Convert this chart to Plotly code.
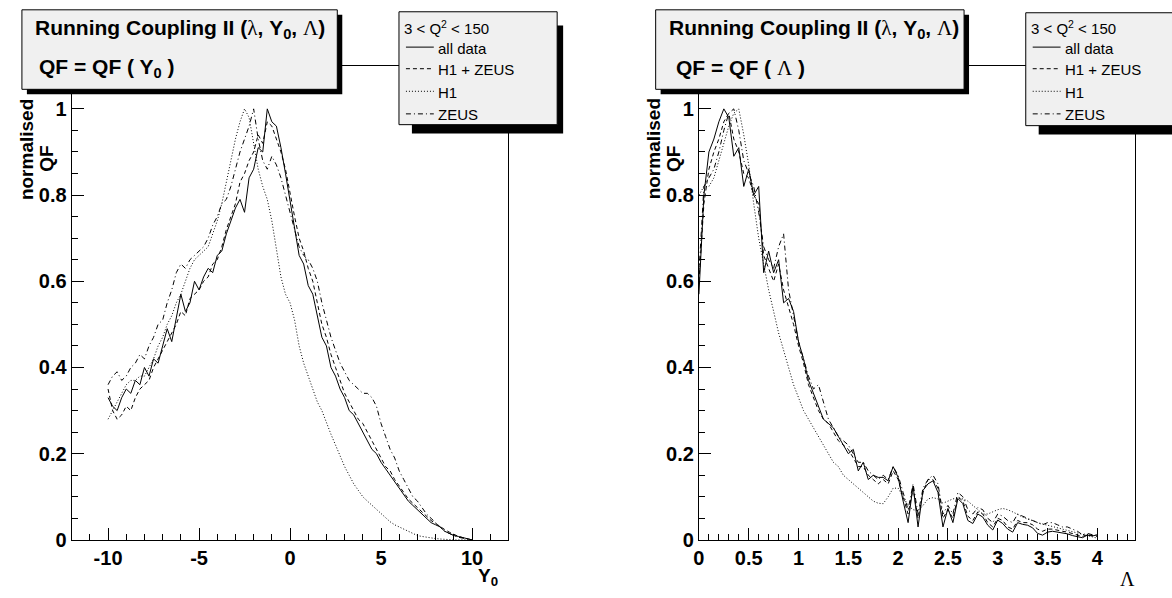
import plotly.graph_objects as go

W, H = 1172, 598

# ---------------- data: left panel, QF vs Y0 ----------------
y0_grid = [round(-10 + 0.25 * i, 2) for i in range(81)]

y0_all = [0.33, 0.31, 0.30, 0.33, 0.35, 0.34, 0.37, 0.36, 0.40, 0.38, 0.42, 0.41, 0.45, 0.49, 0.46, 0.52,
          0.57, 0.53, 0.55, 0.60, 0.58, 0.61, 0.63, 0.62, 0.66, 0.67, 0.71, 0.74, 0.77, 0.79, 0.76, 0.84,
          0.86, 0.91, 0.90, 1.00, 0.97, 0.96, 0.91, 0.85, 0.79, 0.73, 0.66, 0.64, 0.59, 0.57, 0.52, 0.47,
          0.45, 0.40, 0.38, 0.35, 0.33, 0.30, 0.29, 0.27, 0.25, 0.23, 0.21, 0.20, 0.18, 0.165, 0.15, 0.135,
          0.12, 0.105, 0.09, 0.08, 0.07, 0.06, 0.05, 0.04, 0.035, 0.03, 0.02, 0.015, 0.01, 0.008, 0.005,
          0.003, 0.0]
y0_h1zeus = [0.35, 0.30, 0.28, 0.29, 0.31, 0.30, 0.33, 0.35, 0.36, 0.37, 0.40, 0.42, 0.44, 0.46, 0.48, 0.50,
             0.53, 0.52, 0.56, 0.57, 0.58, 0.60, 0.61, 0.64, 0.65, 0.68, 0.72, 0.75, 0.78, 0.83, 0.85, 0.88,
             0.90, 0.94, 0.92, 0.97, 0.96, 0.93, 0.90, 0.86, 0.80, 0.75, 0.70, 0.67, 0.63, 0.60, 0.55, 0.50,
             0.47, 0.43, 0.40, 0.37, 0.34, 0.32, 0.30, 0.28, 0.27, 0.25, 0.23, 0.21, 0.19, 0.17, 0.16, 0.14,
             0.125, 0.11, 0.095, 0.085, 0.075, 0.065, 0.055, 0.045, 0.038, 0.03, 0.024, 0.018, 0.012, 0.008,
             0.005, 0.002, 0.0]
y0_h1 = [0.28, 0.30, 0.32, 0.34, 0.36, 0.37, 0.37, 0.38, 0.38, 0.40, 0.42, 0.45, 0.47, 0.50, 0.52, 0.55,
         0.57, 0.60, 0.63, 0.65, 0.66, 0.67, 0.68, 0.71, 0.74, 0.78, 0.83, 0.88, 0.93, 0.97, 1.00, 0.98,
         0.92, 0.86, 0.82, 0.79, 0.74, 0.67, 0.61, 0.57, 0.55, 0.51, 0.45, 0.41, 0.38, 0.35, 0.32, 0.30,
         0.27, 0.245, 0.22, 0.195, 0.17, 0.15, 0.13, 0.115, 0.10, 0.09, 0.08, 0.07, 0.06, 0.05, 0.042, 0.035,
         0.03, 0.025, 0.02, 0.015, 0.01, 0.008, 0.006, 0.004, 0.003, 0.002, 0.001, 0.0, 0.0, 0.0, 0.0,
         0.0, 0.0]
y0_zeus = [0.36, 0.38, 0.39, 0.37, 0.38, 0.40, 0.41, 0.43, 0.42, 0.45, 0.47, 0.50, 0.51, 0.55, 0.58, 0.62,
           0.64, 0.63, 0.65, 0.66, 0.67, 0.68, 0.70, 0.73, 0.75, 0.78, 0.79, 0.82, 0.86, 0.90, 0.93, 0.96,
           1.00, 0.93, 0.88, 0.86, 0.89, 0.87, 0.84, 0.80, 0.76, 0.72, 0.68, 0.66, 0.65, 0.63, 0.60, 0.55,
           0.51, 0.47, 0.44, 0.41, 0.39, 0.37, 0.36, 0.35, 0.34, 0.34, 0.33, 0.31, 0.27, 0.24, 0.21, 0.19,
           0.16, 0.14, 0.12, 0.10, 0.09, 0.075, 0.06, 0.05, 0.04, 0.03, 0.02, 0.015, 0.01, 0.006, 0.004,
           0.002, 0.0]

# ---------------- data: right panel, QF vs Lambda ----------------
lam_grid = [round(0.05 * i, 2) for i in range(81)]

lam_all = [0.57, 0.80, 0.90, 0.93, 0.97, 1.00, 0.98, 0.89, 0.91, 0.82, 0.86, 0.80, 0.82, 0.62, 0.67, 0.62,
           0.65, 0.55, 0.56, 0.53, 0.46, 0.42, 0.37, 0.34, 0.31, 0.28, 0.27, 0.26, 0.24, 0.22, 0.20, 0.21,
           0.16, 0.18, 0.14, 0.15, 0.145, 0.145, 0.137, 0.17, 0.145, 0.09, 0.04, 0.125, 0.03, 0.115, 0.13,
           0.137, 0.11, 0.03, 0.073, 0.04, 0.096, 0.084, 0.045, 0.038, 0.06, 0.053, 0.034, 0.023, 0.046,
           0.038, 0.025, 0.018, 0.04, 0.036, 0.034, 0.028, 0.015, 0.011, 0.018, 0.02, 0.018, 0.016, 0.014,
           0.01, 0.007, 0.005, 0.011, 0.009, 0.012]
lam_h1zeus = [0.60, 0.78, 0.86, 0.90, 0.93, 0.97, 0.99, 0.93, 0.90, 0.85, 0.84, 0.80, 0.78, 0.66, 0.63, 0.60,
              0.64, 0.58, 0.54, 0.50, 0.45, 0.41, 0.36, 0.33, 0.30, 0.28, 0.27, 0.25, 0.23, 0.22, 0.21, 0.19,
              0.17, 0.17, 0.15, 0.14, 0.13, 0.14, 0.13, 0.16, 0.14, 0.10, 0.06, 0.12, 0.05, 0.11, 0.14, 0.14,
              0.12, 0.05, 0.07, 0.05, 0.10, 0.09, 0.055, 0.045, 0.065, 0.06, 0.04, 0.03, 0.05, 0.045, 0.03,
              0.025, 0.045, 0.04, 0.04, 0.035, 0.025, 0.02, 0.025, 0.025, 0.022, 0.02, 0.018, 0.015, 0.012,
              0.008, 0.012, 0.01, 0.008]
lam_h1 = [0.80, 0.82, 0.82, 0.84, 0.88, 0.92, 0.96, 0.99, 1.00, 0.94, 0.87, 0.78, 0.70, 0.64, 0.58, 0.53,
          0.48, 0.44, 0.40, 0.36, 0.33, 0.30, 0.28, 0.26, 0.24, 0.22, 0.20, 0.18, 0.17, 0.15, 0.14, 0.13,
          0.12, 0.11, 0.10, 0.09, 0.085, 0.084, 0.10, 0.12, 0.12, 0.10, 0.08, 0.07, 0.068, 0.08, 0.095, 0.098,
          0.095, 0.085, 0.09, 0.095, 0.098, 0.095, 0.09, 0.08, 0.07, 0.06, 0.06, 0.065, 0.07, 0.073, 0.07,
          0.065, 0.058, 0.053, 0.048, 0.045, 0.04, 0.037, 0.034, 0.03, 0.027, 0.024, 0.021, 0.018, 0.015,
          0.012, 0.009, 0.006, 0.004]
lam_zeus = [0.62, 0.82, 0.84, 0.86, 0.90, 0.95, 0.99, 1.00, 0.95, 0.88, 0.85, 0.82, 0.76, 0.68, 0.65, 0.63,
            0.68, 0.71, 0.58, 0.52, 0.46, 0.42, 0.38, 0.35, 0.36, 0.32, 0.28, 0.26, 0.24, 0.23, 0.22, 0.20,
            0.18, 0.18, 0.16, 0.15, 0.14, 0.15, 0.14, 0.17, 0.15, 0.11, 0.07, 0.13, 0.06, 0.12, 0.14, 0.15,
            0.13, 0.06, 0.08, 0.06, 0.11, 0.10, 0.07, 0.06, 0.075, 0.07, 0.05, 0.04, 0.06, 0.055, 0.045,
            0.04, 0.06, 0.055, 0.05, 0.045, 0.04, 0.035, 0.04, 0.04, 0.035, 0.03, 0.03, 0.025, 0.02, 0.012,
            0.015, 0.012, 0.01]

series_names = ["all data", "H1 + ZEUS", "H1", "ZEUS"]
y_ticks = [0, 0.2, 0.4, 0.6, 0.8, 1]
y_tick_text = ["0", "0.2", "0.4", "0.6", "0.8", "1"]
y0_ticks = [-10, -5, 0, 5, 10]
y0_tick_text = ["-10", "-5", "0", "5", "10"]
lam_ticks = [0, 0.5, 1, 1.5, 2, 2.5, 3, 3.5, 4]
lam_tick_text = ["0", "0.5", "1", "1.5", "2", "2.5", "3", "3.5", "4"]

# ---------------- styling ----------------
SANS = "Liberation Sans, Arial, Helvetica, sans-serif"
SERIF = "Liberation Serif, Times New Roman, serif"
DASHES = ["solid", "4px,3px", "1px,2px", "5px,3px,1px,3px"]


def px(x):
    return x / W


def py(y):
    return 1 - y / H


fig = go.Figure()

left_sets = [y0_all, y0_h1zeus, y0_h1, y0_zeus]
right_sets = [lam_all, lam_h1zeus, lam_h1, lam_zeus]
for name, ys, dash in zip(series_names, left_sets, DASHES):
    fig.add_trace(go.Scatter(x=y0_grid, y=ys, mode="lines", name=name, showlegend=False,
                             line=dict(color="black", width=1, dash=dash), xaxis="x", yaxis="y"))
for name, ys, dash in zip(series_names, right_sets, DASHES):
    fig.add_trace(go.Scatter(x=lam_grid, y=ys, mode="lines", name=name, showlegend=False,
                             line=dict(color="black", width=1, dash=dash), xaxis="x2", yaxis="y2"))

tickfont = dict(family=SANS, size=20, color="black", weight="bold")
common_axis = dict(showline=True, linecolor="black", linewidth=1, mirror=True, showgrid=False,
                   zeroline=False, ticks="inside", tickcolor="black", tickwidth=1, ticklen=12,
                   tickfont=tickfont)

FRAME_BOTTOM, FRAME_TOP = 550, 67
LX0, LX1 = 66, 505
RX0, RX1 = 696.5, 1135

fig.update_layout(
    width=W, height=H, autosize=False,
    margin=dict(l=0, r=0, t=0, b=0),
    paper_bgcolor="white", plot_bgcolor="white",
    xaxis=dict(domain=[px(LX0), px(LX1)], range=[-12, 12], anchor="y",
               tickmode="array", tickvals=y0_ticks, ticktext=y0_tick_text,
               minor=dict(ticks="inside", ticklen=6, dtick=1, tick0=0, tickcolor="black"),
               **common_axis),
    yaxis=dict(domain=[py(FRAME_BOTTOM), py(FRAME_TOP)], range=[0, 1.1], anchor="x",
               tickmode="array", tickvals=y_ticks, ticktext=y_tick_text,
               minor=dict(ticks="inside", ticklen=6, dtick=0.05, tick0=0, tickcolor="black"),
               **common_axis),
    xaxis2=dict(domain=[px(RX0), px(RX1)], range=[0, 4.38], anchor="y2",
                tickmode="array", tickvals=lam_ticks, ticktext=lam_tick_text,
                minor=dict(ticks="inside", ticklen=6, dtick=0.1, tick0=0, tickcolor="black"),
                **common_axis),
    yaxis2=dict(domain=[py(FRAME_BOTTOM), py(FRAME_TOP)], range=[0, 1.1], anchor="x2",
                tickmode="array", tickvals=y_ticks, ticktext=y_tick_text,
                minor=dict(ticks="inside", ticklen=6, dtick=0.05, tick0=0, tickcolor="black"),
                **common_axis),
)

shapes = []
annotations = []


def rect(x0, y0, x1, y1, fill, line_w=1):
    shapes.append(dict(type="rect", xref="paper", yref="paper", x0=px(x0), x1=px(x1), y0=py(y0), y1=py(y1),
                       fillcolor=fill, line=dict(color="black", width=line_w), layer="above"))


def text(x, y, s, size, bold=False, anchor="left", angle=0, family=SANS):
    f = dict(family=family, size=size, color="black")
    if bold:
        f["weight"] = "bold"
    annotations.append(dict(xref="paper", yref="paper", x=px(x), y=py(y), text=s, showarrow=False,
                            xanchor=anchor, yanchor="middle", font=f, textangle=angle))


LAM_SMALL = "<span style='font-family:Liberation Serif;font-weight:normal'>λ</span>"
LAM_BIG = "<span style='font-family:Liberation Serif;font-weight:normal'>Λ</span>"

panels = [
    dict(box=(16, 10, 333, 91), t1x=27, t2x=31, t2="QF = QF ( Y<sub>0</sub> )",
         leg=(395, 12, 554, 127), legshadow=(408, 26, 560, 136), ytitle_x=20, qf_x=40),
    dict(box=(653, 10, 963, 91), t1x=664, t2x=671, t2="QF = QF ( " + LAM_BIG + " )",
         leg=(1025, 13, 1180, 128), legshadow=(1038, 27, 1185, 137), ytitle_x=650.5, qf_x=670.5),
]

for p in panels:
    bx0, by0, bx1, by1 = p["box"]
    rect(bx0 + 5, by0 + 5, bx1 + 5, by1 + 5, "black", 0)
    rect(bx0, by0, bx1, by1, "#f0f0f0")
    text(p["t1x"], 30, "Running Coupling II (" + LAM_SMALL + ", Y<sub>0</sub>, " + LAM_BIG + ")", 21, bold=True)
    text(p["t2x"], 69, p["t2"], 21, bold=True)
    lx0, ly0, lx1, ly1 = p["leg"]
    sx0, sy0, sx1, sy1 = p["legshadow"]
    rect(sx0, sy0, sx1, sy1, "black", 0)
    rect(lx0, ly0, lx1, ly1, "#f0f0f0")
    text(lx0 + 3, 28, "3 < Q<sup>2</sup> < 150", 15)
    for i, (name, dash) in enumerate(zip(series_names, DASHES)):
        yy = [48, 70, 93, 116][i]
        shapes.append(dict(type="line", xref="paper", yref="paper", x0=px(lx0 + 7), x1=px(lx0 + 35),
                           y0=py(yy), y1=py(yy), line=dict(color="black", width=1, dash=dash), layer="above"))
        text(lx0 + 37, yy + 1, name, 15)
    text(p["ytitle_x"], 152, "normalised", 19, bold=True, anchor="center", angle=-90)
    text(p["qf_x"], 162, "QF", 19, bold=True, anchor="center", angle=-90)

text(484, 588, "Y<sub>0</sub>", 19, bold=True, anchor="center")
text(1127, 590, "Λ", 20, anchor="center", family=SERIF)

fig.update_layout(shapes=shapes, annotations=annotations)
fig.write_html("out.html", config={"displayModeBar": False},
               post_script="document.body.style.margin='0px';")
